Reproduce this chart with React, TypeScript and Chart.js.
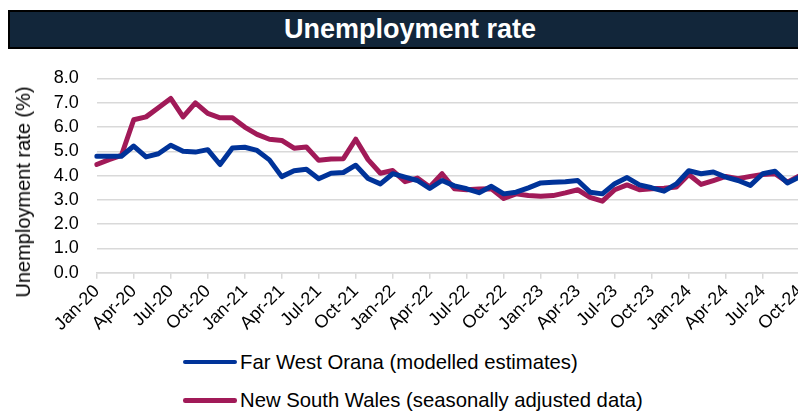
import React, { useEffect, useRef } from "react";
import { Chart, registerables } from "chart.js";

Chart.register(...registerables);

const categories: string[] = [
  "Jan-20", "Feb-20", "Mar-20", "Apr-20", "May-20", "Jun-20", "Jul-20", "Aug-20", "Sep-20", "Oct-20", "Nov-20", "Dec-20",
  "Jan-21", "Feb-21", "Mar-21", "Apr-21", "May-21", "Jun-21", "Jul-21", "Aug-21", "Sep-21", "Oct-21", "Nov-21", "Dec-21",
  "Jan-22", "Feb-22", "Mar-22", "Apr-22", "May-22", "Jun-22", "Jul-22", "Aug-22", "Sep-22", "Oct-22", "Nov-22", "Dec-22",
  "Jan-23", "Feb-23", "Mar-23", "Apr-23", "May-23", "Jun-23", "Jul-23", "Aug-23", "Sep-23", "Oct-23", "Nov-23", "Dec-23",
  "Jan-24", "Feb-24", "Mar-24", "Apr-24", "May-24", "Jun-24", "Jul-24", "Aug-24", "Sep-24", "Oct-24",
];

const farWestOrana: number[] = [
  4.8, 4.8, 4.8, 5.22, 4.77, 4.9, 5.25, 5.0, 4.97, 5.07, 4.46, 5.14,
  5.17, 5.04, 4.65, 3.96, 4.2, 4.26, 3.87, 4.1, 4.13, 4.43, 3.88, 3.66,
  4.08, 3.94, 3.8, 3.47, 3.8, 3.58, 3.46, 3.3, 3.56, 3.25, 3.32, 3.5,
  3.7, 3.73, 3.75, 3.8, 3.32, 3.25, 3.67, 3.92, 3.62, 3.5, 3.36, 3.66,
  4.2, 4.08, 4.15, 3.94, 3.8, 3.6, 4.08, 4.18, 3.7, 3.95,
];

const newSouthWales: number[] = [
  4.46, 4.66, 4.83, 6.3, 6.42, 6.8, 7.18, 6.42, 7.0, 6.56, 6.38, 6.38,
  6.0, 5.7, 5.5, 5.45, 5.13, 5.18, 4.63, 4.69, 4.7, 5.5, 4.66, 4.1,
  4.21, 3.75, 3.9, 3.53, 4.08, 3.46, 3.42, 3.45, 3.46, 3.06, 3.25, 3.18,
  3.15, 3.18, 3.29, 3.42, 3.11, 2.95, 3.42, 3.62, 3.42, 3.46, 3.48, 3.53,
  4.05, 3.64, 3.8, 3.97, 3.87, 3.97, 4.05, 4.08, 3.73, 4.0,
];

const yTicks: number[] = [0, 1, 2, 3, 4, 5, 6, 7, 8];

const seriesNames: string[] = [
  "Far West Orana (modelled estimates)",
  "New South Wales (seasonally adjusted data)",
];
const seriesColors: string[] = ["#003399", "#A11A58"];

const FONT = "'Liberation Sans', Arial, sans-serif";

export default function App() {
  const canvasRef = useRef<HTMLCanvasElement | null>(null);

  useEffect(() => {
    if (!canvasRef.current) return;
    const chart = new Chart(canvasRef.current, {
      type: "line",
      data: {
        labels: categories,
        datasets: [
          {
            label: seriesNames[0],
            data: farWestOrana,
            borderColor: seriesColors[0],
            backgroundColor: seriesColors[0],
            borderWidth: 5,
            pointRadius: 0,
            tension: 0,
            borderJoinStyle: "round",
            borderCapStyle: "round",
          },
          {
            label: seriesNames[1],
            data: newSouthWales,
            borderColor: seriesColors[1],
            backgroundColor: seriesColors[1],
            borderWidth: 5,
            pointRadius: 0,
            tension: 0,
            borderJoinStyle: "round",
            borderCapStyle: "round",
          },
        ],
      },
      options: {
        animation: false,
        responsive: false,
        maintainAspectRatio: false,
        layout: { padding: { left: 35.7, top: 78.5, right: 0, bottom: 13 } },
        plugins: {
          legend: { display: false },
          tooltip: { enabled: false },
        },
        scales: {
          x: {
            type: "category",
            offset: false,
            grid: {
              drawOnChartArea: false,
              drawTicks: true,
              tickLength: 6,
              lineWidth: 1.5,
              color: (ctx: any) => (ctx.index % 3 === 0 ? "#d9d9d9" : "rgba(0,0,0,0)"),
            },
            border: { display: true, color: "#d9d9d9", width: 1.5 },
            ticks: {
              autoSkip: false,
              maxRotation: 45,
              minRotation: 45,
              padding: 2,
              color: "#000",
              font: { family: FONT, size: 18 },
              callback: (_v: any, idx: number) => (idx % 3 === 0 ? categories[idx] : ""),
            },
          },
          y: {
            min: yTicks[0],
            max: yTicks[yTicks.length - 1],
            afterBuildTicks: (axis: any) => {
              axis.ticks = yTicks.map((v) => ({ value: v }));
            },
            grid: { color: "#d9d9d9", lineWidth: 1.5, drawTicks: false },
            border: { display: false },
            ticks: {
              autoSkip: false,
              padding: 18,
              color: "#000",
              font: { family: FONT, size: 18 },
              callback: (v: any) => Number(v).toFixed(1),
            },
          },
        },
      },
    });
    return () => chart.destroy();
  }, []);

  return (
    <div
      style={{
        position: "absolute",
        left: 0,
        top: 0,
        width: 798,
        height: 412,
        overflow: "hidden",
        background: "#fff",
      }}
    >
      <div
        style={{
          position: "absolute",
          left: 8,
          top: 10,
          width: 804,
          height: 39,
          boxSizing: "border-box",
          border: "2px solid #000",
          background: "#12263A",
          color: "#fff",
          fontFamily: FONT,
          fontWeight: "bold",
          fontSize: 27,
          lineHeight: "35px",
          textAlign: "center",
        }}
      >
        Unemployment rate
      </div>
      <canvas
        ref={canvasRef}
        width={817}
        height={350}
        style={{ position: "absolute", left: 0, top: 0, width: 817, height: 350 }}
      />
      <div
        style={{
          position: "absolute",
          left: 23,
          top: 192,
          transform: "translate(-50%, -50%) rotate(-90deg)",
          fontFamily: FONT,
          fontSize: 20,
          color: "#000",
          whiteSpace: "nowrap",
          lineHeight: "22px",
        }}
      >
        Unemployment rate (%)
      </div>
      {seriesNames.map((name, i) => (
        <div
          key={name}
          style={{
            position: "absolute",
            left: 183,
            top: 350 + i * 38.5,
            height: 24,
            display: "flex",
            alignItems: "center",
            fontFamily: FONT,
            fontSize: 20.3,
            color: "#000",
            whiteSpace: "nowrap",
          }}
        >
          <span
            style={{
              display: "inline-block",
              width: 54,
              height: 4.5,
              borderRadius: 2.25,
              background: seriesColors[i],
              marginRight: 3,
            }}
          />
          {name}
        </div>
      ))}
    </div>
  );
}
